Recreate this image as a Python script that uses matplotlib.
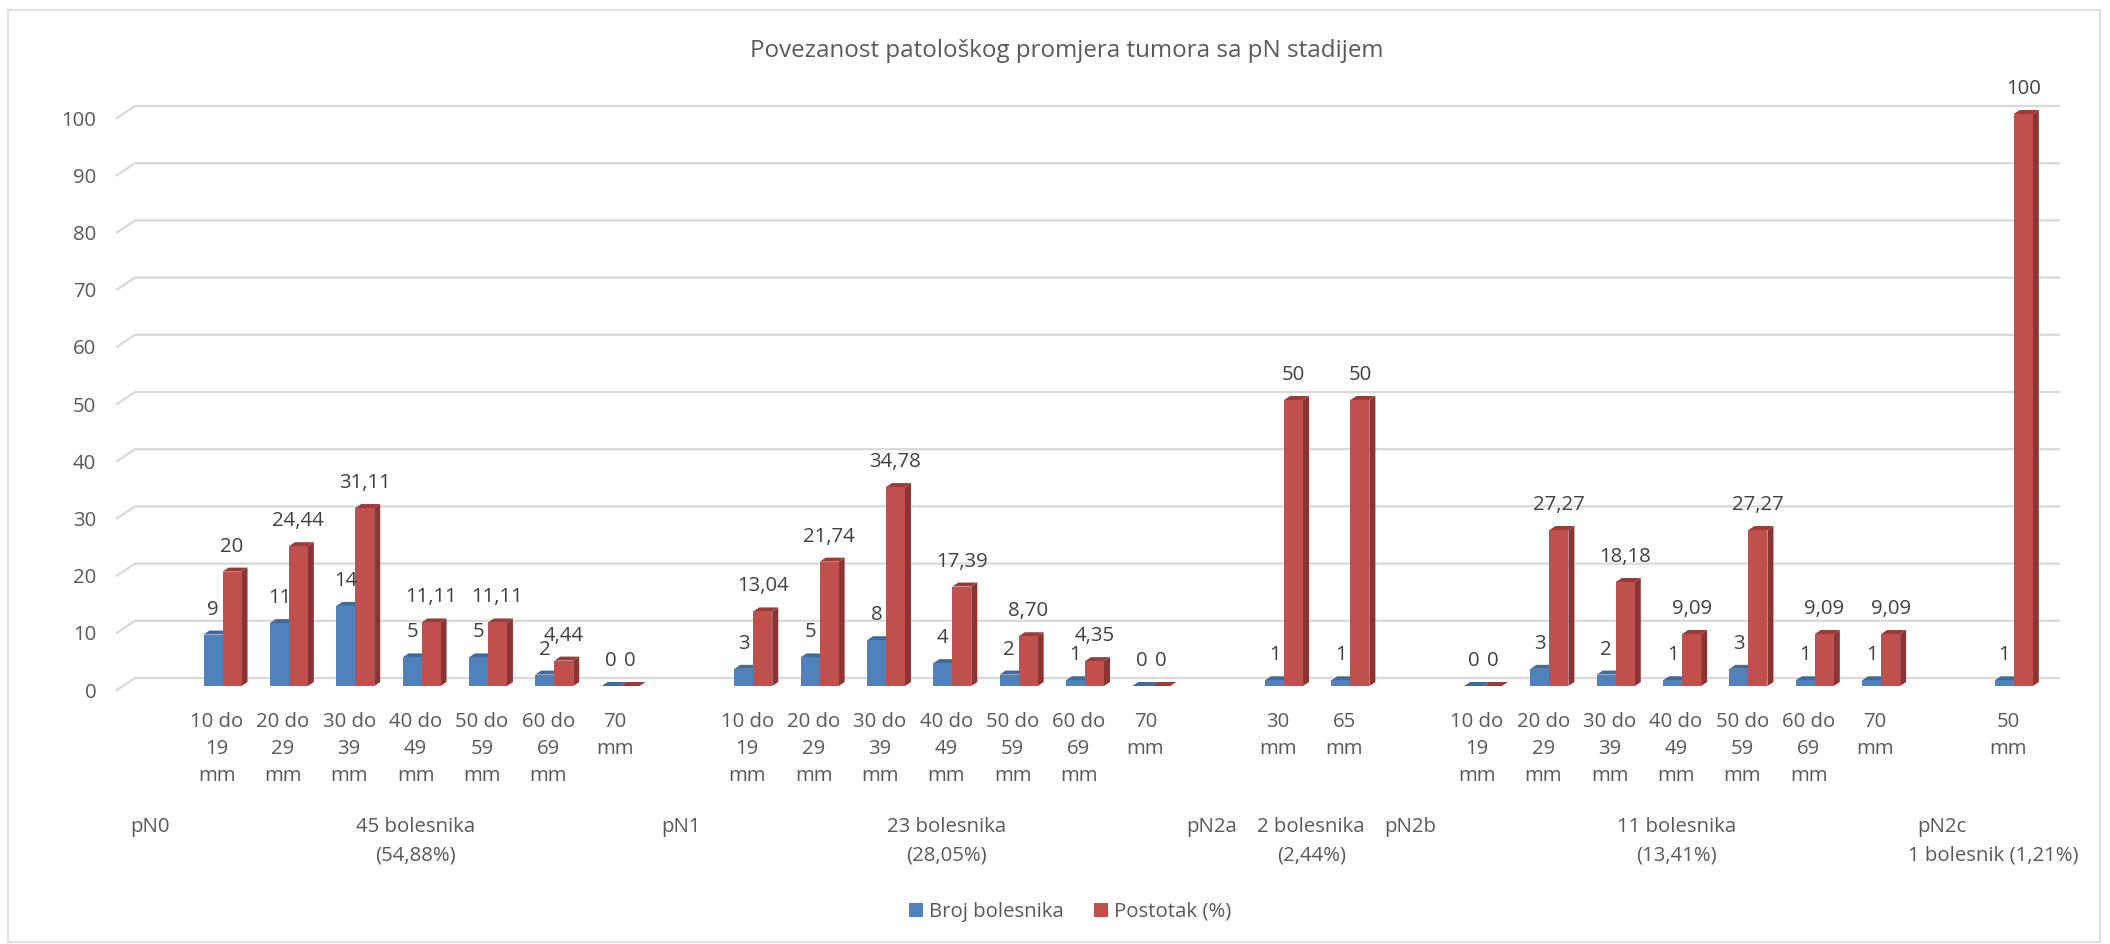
import matplotlib
matplotlib.use("Agg")
import matplotlib.pyplot as plt
from matplotlib.patches import Polygon, Rectangle, Patch
from matplotlib.lines import Line2D
from matplotlib import transforms as mtrans
import numpy as np

plt.rcParams['font.family'] = ['Open Sans', 'DejaVu Sans']

# ---------------- data ----------------
title = "Povezanost patološkog promjera tumora sa pN stadijem"
series_names = ["Broj bolesnika", "Postotak (%)"]

groups = ["pN0", "pN1", "pN2a", "pN2b", "pN2c"]
group_totals = [["45 bolesnika", "(54,88%)"],
                ["23 bolesnika", "(28,05%)"],
                ["2 bolesnika", "(2,44%)"],
                ["11 bolesnika", "(13,41%)"],
                ["", "1 bolesnik (1,21%)"]]

sizes_pN0 = ["10 do\n19\nmm", "20 do\n29\nmm", "30 do\n39\nmm", "40 do\n49\nmm",
             "50 do\n59\nmm", "60 do\n69\nmm", "70\nmm"]
sizes_pN1 = ["10 do\n19\nmm", "20 do\n29\nmm", "30 do\n39\nmm", "40 do\n49\nmm",
             "50 do\n59\nmm", "60 do\n69\nmm", "70\nmm"]
sizes_pN2a = ["30\nmm", "65\nmm"]
sizes_pN2b = ["10 do\n19\nmm", "20 do\n29\nmm", "30 do\n39\nmm", "40 do\n49\nmm",
              "50 do\n59\nmm", "60 do\n69\nmm", "70\nmm"]
sizes_pN2c = ["50\nmm"]

broj_pN0 = [9, 11, 14, 5, 5, 2, 0]
postotak_pN0 = [20, 24.44, 31.11, 11.11, 11.11, 4.44, 0]
broj_pN1 = [3, 5, 8, 4, 2, 1, 0]
postotak_pN1 = [13.04, 21.74, 34.78, 17.39, 8.70, 4.35, 0]
broj_pN2a = [1, 1]
postotak_pN2a = [50, 50]
broj_pN2b = [0, 3, 2, 1, 3, 1, 1]
postotak_pN2b = [0, 27.27, 18.18, 9.09, 27.27, 9.09, 9.09]
broj_pN2c = [1]
postotak_pN2c = [100]

y_ticks = list(range(0, 101, 10))

group_sizes = [sizes_pN0, sizes_pN1, sizes_pN2a, sizes_pN2b, sizes_pN2c]
group_broj = [broj_pN0, broj_pN1, broj_pN2a, broj_pN2b, broj_pN2c]
group_post = [postotak_pN0, postotak_pN1, postotak_pN2a, postotak_pN2b, postotak_pN2c]

# ---------------- style ----------------
W, H = 2110, 944
FS = 14.7
TXT = "#595959"
LBL = "#404040"
GRID = "#D9D9D9"
BLUE = ("#4F81BD", "#3F6A9E", "#385D8A")   # front, top, side
RED = ("#C0504D", "#9E3B38", "#8A3533")

def fmt(v):
    if float(v).is_integer():
        return str(int(v))
    return f"{v:.2f}".replace(".", ",")

# slot layout: one blank (labelled) slot before each group
slot = -1
group_slot, size_slots = [], []
for sizes in group_sizes:
    group_slot.append(slot)
    slot += 1
    size_slots.append(list(range(slot, slot + len(sizes))))
    slot += len(sizes)
xmin, xmax = group_slot[0] - 0.5, size_slots[-1][-1] + 0.5

fig = plt.figure(figsize=(W / 100, H / 100), dpi=100)
ax = fig.add_axes([117 / W, (H - 690) / H, 1924 / W, 572 / H])
ax.set_xlim(xmin, xmax)
ax.set_ylim(0, 100)
for s in ax.spines.values():
    s.set_visible(False)
ax.patch.set_visible(False)

ax.set_yticks(y_ticks)
ax.tick_params(axis='y', length=0, pad=15, labelsize=FS, labelcolor=TXT)

all_slots = [s for ss in size_slots for s in ss]
all_labels = [l for ls in group_sizes for l in ls]
ax.set_xticks(all_slots, all_labels)
ax.tick_params(axis='x', length=0, pad=16, labelsize=FS, labelcolor=TXT)
for lab in ax.get_xticklabels():
    lab.set_linespacing(1.45)

ident = mtrans.IdentityTransform()
DX, DY = 18, 12          # floor depth (pixels)
BDX, BDY = 6, 4          # bar offset / bar depth

def disp(x, y):
    return ax.transData.transform((x, y))

# back-wall gridlines with 3D floor diagonal
for v in y_ticks:
    p0 = disp(xmin, v)
    p1 = disp(xmax, v)
    ln = Line2D([p0[0], p0[0] + DX, p1[0] + DX], [p0[1], p0[1] + DY, p1[1] + DY],
                transform=ident, color=GRID, lw=1.6, zorder=0.5, clip_on=False)
    ax.add_line(ln)

BW = 19 / 66.34  # bar width in slot units

def bar3d(xl, xr, v, cols):
    x0, y0 = disp(xl, 0) + np.array([BDX, BDY])
    x1, y1 = disp(xr, v) + np.array([BDX, BDY])
    front = [(x0, y0), (x1, y0), (x1, y1), (x0, y1)]
    top = [(x0, y1), (x1, y1), (x1 + BDX, y1 + BDY), (x0 + BDX, y1 + BDY)]
    side = [(x1, y0), (x1 + BDX, y0 + BDY), (x1 + BDX, y1 + BDY), (x1, y1)]
    for pts, c in ((side, cols[2]), (top, cols[1]), (front, cols[0])):
        ax.add_patch(Polygon(pts, closed=True, transform=ident, fc=c, ec='none',
                             zorder=2, clip_on=False))

for slots, broj, post in zip(size_slots, group_broj, group_post):
    for xc, b, p in zip(slots, broj, post):
        bar3d(xc - BW, xc, b, BLUE)
        bar3d(xc, xc + BW, p, RED)
        for cx, val in ((xc - BW / 2, b), (xc + BW / 2, p)):
            ax.annotate(fmt(val), xy=(cx, val), xytext=(BDX * 0.72, 29 * 0.72),
                        textcoords='offset points', ha='center', va='center',
                        fontsize=FS, color=LBL, zorder=5, annotation_clip=False)

# group labels
bt = mtrans.blended_transform_factory(ax.transData, fig.transFigure)
y1 = 1 - 827 / H
y2 = 1 - 855 / H
for i, (g, gs, tot, slots) in enumerate(zip(groups, group_slot, group_totals, size_slots)):
    ax.text(gs, y1, g, transform=bt, ha='center', va='center', fontsize=FS, color=TXT)
    cx = (slots[0] + slots[-1]) / 2
    if i == len(groups) - 1:
        cx -= 0.22
    if tot[0]:
        ax.text(cx, y1, tot[0], transform=bt, ha='center', va='center', fontsize=FS, color=TXT)
    ax.text(cx, y2, tot[1], transform=bt, ha='center', va='center', fontsize=FS, color=TXT)

# title
fig.text(1067 / W, 1 - 51 / H, title, ha='center', va='center', fontsize=17.4, color=TXT)

# legend
handles = [Patch(facecolor=BLUE[0], edgecolor='none'), Patch(facecolor=RED[0], edgecolor='none')]
fig.legend(handles, series_names, loc='center', bbox_to_anchor=(1070 / W, 1 - 912 / H),
           bbox_transform=fig.transFigure, ncol=2, frameon=False, fontsize=FS,
           handlelength=0.69, handleheight=0.69, handletextpad=0.3, columnspacing=1.45,
           labelcolor=TXT)

# chart border
fig.add_artist(Rectangle((8 / W, 1 - 942 / H), (2100 - 8) / W, (942 - 10) / H,
                         transform=fig.transFigure, fill=False, ec=GRID, lw=1.2))

fig.savefig("out.png", dpi=100, facecolor="white")
